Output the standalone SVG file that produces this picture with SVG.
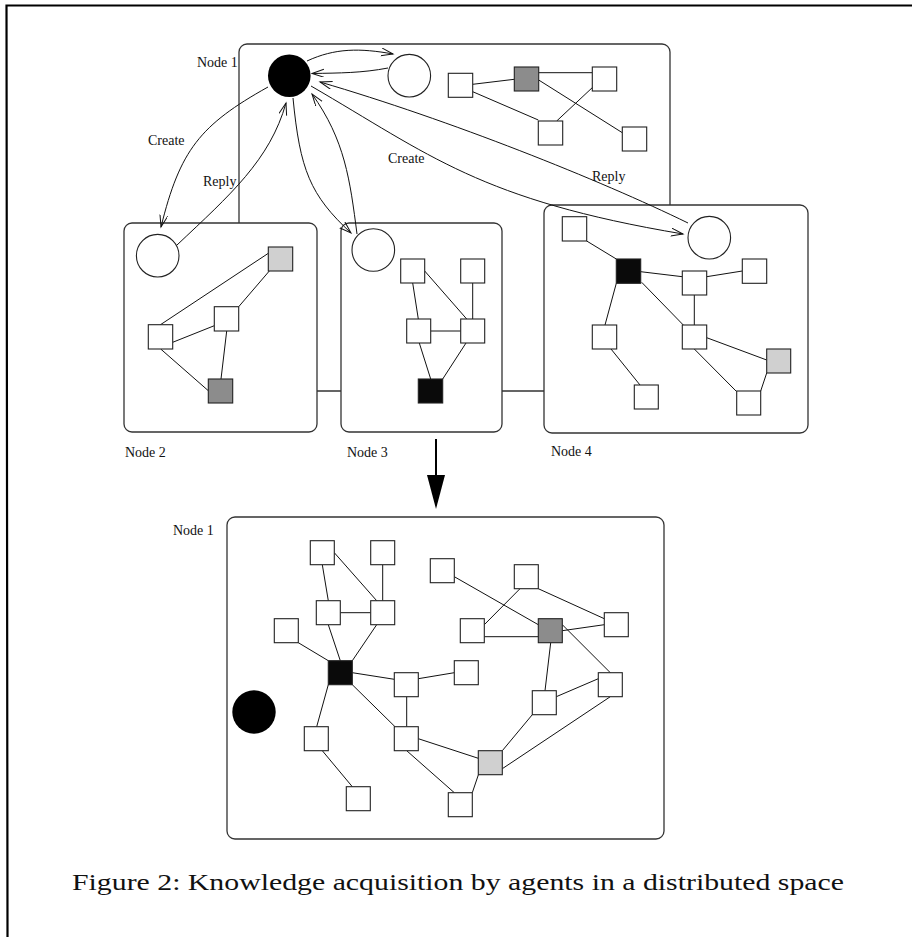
<svg xmlns="http://www.w3.org/2000/svg" width="912" height="937" viewBox="0 0 912 937">
<defs>
<style>
.frame{fill:#fff;stroke:#333;stroke-width:1.3}
.sq{fill:#fff;stroke:#222;stroke-width:1.1}
.dg{fill:#8c8c8c}
.lg{fill:#d0d0d0}
.bk{fill:#0a0a0a}
.cw{fill:#fff;stroke:#222;stroke-width:1.1}
.cb{fill:#000}
.e{stroke:#111;stroke-width:1;fill:none}
.a{stroke:#111;stroke-width:1;fill:none;marker-end:url(#ah)}
.lbl{font-family:"Liberation Serif","Times New Roman",serif;font-size:14px;fill:#111}
.cap{font-family:"Liberation Serif","Times New Roman",serif;font-size:23px;fill:#111}
</style>
<marker id="ah" markerUnits="userSpaceOnUse" markerWidth="14" markerHeight="10" refX="12" refY="4" orient="auto">
<path d="M0,0 L12,4 L0,8" fill="none" stroke="#111" stroke-width="1"/>
</marker>
</defs>
<rect width="912" height="937" fill="#fff"/>
<polyline points="912,5.5 6.5,5.5 7.5,937" fill="none" stroke="#000" stroke-width="2.2"/>

<g id="frames">
<rect id="frame-node1-top" class="frame" x="239" y="44" width="431" height="347" rx="8"/>
<rect id="frame-node2" class="frame" x="124" y="223" width="193" height="209" rx="8"/>
<rect id="frame-node3" class="frame" x="341" y="223" width="161" height="209" rx="8"/>
<rect id="frame-node4" class="frame" x="544" y="205" width="264" height="228" rx="8"/>
<rect id="frame-node1-bottom" class="frame" x="227" y="517" width="437" height="322" rx="8"/>
</g>

<g id="labels">
<text class="lbl" x="197" y="67">Node 1</text>
<text class="lbl" x="125" y="457">Node 2</text>
<text class="lbl" x="347" y="457">Node 3</text>
<text class="lbl" x="551" y="456">Node 4</text>
<text class="lbl" x="173" y="535">Node 1</text>
<text class="lbl" x="148" y="145">Create</text>
<text class="lbl" x="203" y="186">Reply</text>
<text class="lbl" x="388" y="163">Create</text>
<text class="lbl" x="592" y="181">Reply</text>
</g>

<g id="connectors">
<line class="e" x1="472.7" y1="84.3" x2="514.3" y2="79.3"/>
<line class="e" x1="538.7" y1="72.7" x2="592.3" y2="72.7"/>
<line class="e" x1="472.7" y1="91.7" x2="538.3" y2="120"/>
<line class="e" x1="593.3" y1="86.7" x2="556.7" y2="121"/>
<line class="e" x1="538.7" y1="80" x2="622.3" y2="132.7"/>
<line class="e" x1="160" y1="325" x2="268.3" y2="253.3"/>
<line class="e" x1="238.7" y1="306.7" x2="269.3" y2="271"/>
<line class="e" x1="172.7" y1="342.3" x2="214.3" y2="325.7"/>
<line class="e" x1="226.7" y1="331" x2="221" y2="379"/>
<line class="e" x1="160.7" y1="349" x2="208.3" y2="390.7"/>
<line class="e" x1="412.7" y1="283" x2="418.3" y2="319"/>
<line class="e" x1="424.7" y1="271" x2="466.7" y2="319"/>
<line class="e" x1="472.7" y1="283" x2="472.7" y2="319"/>
<line class="e" x1="430.7" y1="331" x2="460.7" y2="331"/>
<line class="e" x1="419.3" y1="343" x2="430.7" y2="379"/>
<line class="e" x1="466" y1="343" x2="442.7" y2="379"/>
<line class="e" x1="586.7" y1="241" x2="616.3" y2="259"/>
<line class="e" x1="640.7" y1="271.7" x2="682.3" y2="276.7"/>
<line class="e" x1="706.7" y1="276.7" x2="742.3" y2="271"/>
<line class="e" x1="694.3" y1="295" x2="694.3" y2="325"/>
<line class="e" x1="641.7" y1="282.3" x2="683.3" y2="325"/>
<line class="e" x1="616.3" y1="283.3" x2="605" y2="325"/>
<line class="e" x1="611" y1="349" x2="640" y2="385"/>
<line class="e" x1="706.7" y1="337.7" x2="766.7" y2="360"/>
<line class="e" x1="694.3" y1="349" x2="736.7" y2="391.7"/>
<line class="e" x1="766.7" y1="373" x2="760.7" y2="391"/>
<line class="e" x1="322.3" y1="564.7" x2="328.3" y2="600.7"/>
<line class="e" x1="334.3" y1="552.7" x2="376.7" y2="600.7"/>
<line class="e" x1="382.7" y1="564.7" x2="382.7" y2="600.7"/>
<line class="e" x1="340.3" y1="612.7" x2="370.7" y2="612.7"/>
<line class="e" x1="328.3" y1="624.7" x2="340.3" y2="660.7"/>
<line class="e" x1="376.7" y1="624.7" x2="352.3" y2="660.7"/>
<line class="e" x1="298.3" y1="642.7" x2="328.3" y2="660.7"/>
<line class="e" x1="352.3" y1="672.7" x2="394.3" y2="679.3"/>
<line class="e" x1="418.3" y1="678.7" x2="454.3" y2="672.7"/>
<line class="e" x1="406.7" y1="696.7" x2="406.7" y2="726.7"/>
<line class="e" x1="352.3" y1="684.7" x2="395" y2="726.7"/>
<line class="e" x1="328.3" y1="684.7" x2="316.7" y2="726.7"/>
<line class="e" x1="322.3" y1="750.7" x2="352.3" y2="786.7"/>
<line class="e" x1="418.3" y1="738.7" x2="478.3" y2="758.3"/>
<line class="e" x1="406.7" y1="750.7" x2="454.3" y2="792.7"/>
<line class="e" x1="478.3" y1="775" x2="472.3" y2="792.7"/>
<line class="e" x1="502.3" y1="750.7" x2="532.3" y2="714.7"/>
<line class="e" x1="502.3" y1="768.7" x2="610.3" y2="696.7"/>
<line class="e" x1="556.3" y1="696.7" x2="598.3" y2="678.7"/>
<line class="e" x1="545" y1="690.7" x2="550.7" y2="642.7"/>
<line class="e" x1="562.3" y1="624.7" x2="610.3" y2="672.7"/>
<line class="e" x1="562.3" y1="630.7" x2="604.3" y2="624.7"/>
<line class="e" x1="538.3" y1="588.7" x2="604.3" y2="618.7"/>
<line class="e" x1="520" y1="588.7" x2="484.3" y2="624.7"/>
<line class="e" x1="484.3" y1="636.7" x2="538.3" y2="636.7"/>
<line class="e" x1="454.3" y1="576.7" x2="538.3" y2="624.7"/>
</g>

<g id="node1-top">
<circle id="agent-n1" class="cb" cx="289.3" cy="75.7" r="21.3"/>
<circle id="c-n1" class="cw" cx="409.3" cy="75.7" r="21.3"/>
<rect class="sq" x="448.3" y="73.3" width="24.4" height="24"/>
<rect class="sq dg" x="514.3" y="67" width="24.4" height="24"/>
<rect class="sq" x="592.3" y="67" width="24.4" height="24"/>
<rect class="sq" x="538.3" y="121" width="24.4" height="24"/>
<rect class="sq" x="622.3" y="127" width="24.4" height="24"/>
</g>
<g id="node2">
<circle id="c-n2" class="cw" cx="157.7" cy="255.7" r="21.3"/>
<rect class="sq lg" x="268.3" y="247" width="24.4" height="24"/>
<rect class="sq" x="214.3" y="306.7" width="24.4" height="24.3"/>
<rect class="sq" x="148.3" y="324.7" width="24.4" height="24.3"/>
<rect class="sq dg" x="208.3" y="379" width="24.4" height="24"/>
</g>
<g id="node3">
<circle id="c-n3" class="cw" cx="373.3" cy="250" r="21.3"/>
<rect class="sq" x="400.7" y="259" width="24" height="24"/>
<rect class="sq" x="460.7" y="259" width="24" height="24"/>
<rect class="sq" x="406.7" y="319" width="24" height="24"/>
<rect class="sq" x="460.7" y="319" width="24" height="24"/>
<rect class="sq bk" x="418.3" y="379" width="24.4" height="24"/>
</g>
<g id="node4">
<circle id="c-n4" class="cw" cx="709.3" cy="237.7" r="21.3"/>
<rect class="sq" x="562.3" y="216.7" width="24.4" height="24.3"/>
<rect class="sq bk" x="616.3" y="259" width="24.4" height="24.3"/>
<rect class="sq" x="682.3" y="271" width="24.4" height="24"/>
<rect class="sq" x="742.3" y="259" width="24.4" height="24.3"/>
<rect class="sq" x="592.3" y="325" width="24.4" height="24"/>
<rect class="sq" x="682.3" y="325" width="24.4" height="24"/>
<rect class="sq lg" x="766.7" y="349" width="24" height="24"/>
<rect class="sq" x="634.3" y="385" width="24" height="24"/>
<rect class="sq" x="736.7" y="391" width="24" height="24"/>
</g>
<g id="node1-bottom">
<circle id="agent-n1b" class="cb" cx="254" cy="712" r="21.7"/>
<rect class="sq" x="310.3" y="540.7" width="24" height="24"/>
<rect class="sq" x="370.7" y="540.7" width="24" height="24"/>
<rect class="sq" x="316.3" y="600.7" width="24" height="24"/>
<rect class="sq" x="370.7" y="600.7" width="24" height="24"/>
<rect class="sq" x="274.3" y="618.7" width="24" height="24"/>
<rect class="sq bk" x="328.3" y="660.7" width="24" height="24"/>
<rect class="sq" x="394.3" y="672.7" width="24" height="24"/>
<rect class="sq" x="454.3" y="660.7" width="24" height="24"/>
<rect class="sq" x="304.3" y="726.7" width="24" height="24"/>
<rect class="sq" x="394.3" y="726.7" width="24" height="24"/>
<rect class="sq" x="346.3" y="786.7" width="24" height="24"/>
<rect class="sq" x="448.3" y="792.7" width="24" height="24"/>
<rect class="sq lg" x="478.3" y="750.7" width="24" height="24"/>
<rect class="sq" x="430.3" y="558.7" width="24" height="24"/>
<rect class="sq" x="514.3" y="564.7" width="24" height="24"/>
<rect class="sq" x="460.3" y="618.7" width="24" height="24"/>
<rect class="sq dg" x="538.3" y="618.7" width="24" height="24"/>
<rect class="sq" x="604.3" y="612.7" width="24" height="24"/>
<rect class="sq" x="598.3" y="672.7" width="24" height="24"/>
<rect class="sq" x="532.3" y="690.7" width="24" height="24"/>
</g>

<g id="messages">
<path class="a" d="M307,61 C335,48 360,48 393,54"/>
<path class="a" d="M388,68 C362,73 340,73 312,73.5"/>
<path class="a" d="M268,87 C200,125 180,150 161,227"/>
<path class="a" d="M177,245 C230,195 270,160 286,103"/>
<path class="a" d="M293,98 C300,170 310,195 351,233"/>
<path class="a" d="M357,234 C350,180 345,140 312,94"/>
<path class="a" d="M311,86 C430,155 480,200 683,234"/>
<path class="a" d="M688,223 C600,180 450,120 320,82"/>
<line x1="436" y1="439" x2="436" y2="477" stroke="#000" stroke-width="2"/>
<polygon points="427,475 445,475 436,509" fill="#000"/>
</g>

<text class="cap" x="72" y="890" textLength="772" lengthAdjust="spacingAndGlyphs">Figure 2: Knowledge acquisition by agents in a distributed space</text>
</svg>
